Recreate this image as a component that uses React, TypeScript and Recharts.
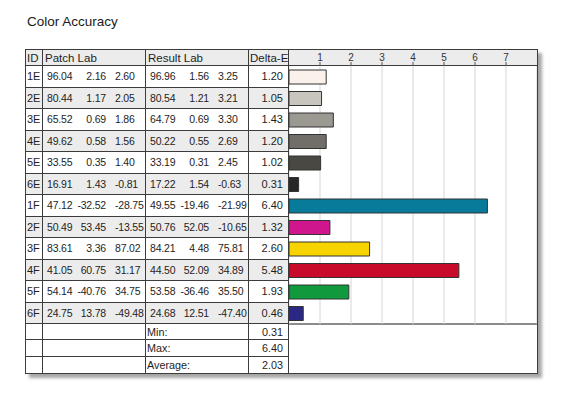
import React from 'react';
import { BarChart, Bar, XAxis, YAxis, CartesianGrid, Cell } from 'recharts';

// Patch readings: reference Lab, measured Lab and the resulting Delta-E
const patchIds = ['1E', '2E', '3E', '4E', '5E', '6E', '1F', '2F', '3F', '4F', '5F', '6F'];
const patchL = [96.04, 80.44, 65.52, 49.62, 33.55, 16.91, 47.12, 50.49, 83.61, 41.05, 54.14, 24.75];
const patchA = [2.16, 1.17, 0.69, 0.58, 0.35, 1.43, -32.52, 53.45, 3.36, 60.75, -40.76, 13.78];
const patchB = [2.6, 2.05, 1.86, 1.56, 1.4, -0.81, -28.75, -13.55, 87.02, 31.17, 34.75, -49.48];
const resultL = [96.96, 80.54, 64.79, 50.22, 33.19, 17.22, 49.55, 50.76, 84.21, 44.5, 53.58, 24.68];
const resultA = [1.56, 1.21, 0.69, 0.55, 0.31, 1.54, -19.46, 52.05, 4.48, 52.09, -36.46, 12.51];
const resultB = [3.25, 3.21, 3.3, 2.69, 2.45, -0.63, -21.99, -10.65, 75.81, 34.89, 35.5, -47.4];
const deltaE = [1.2, 1.05, 1.43, 1.2, 1.02, 0.31, 6.4, 1.32, 2.6, 5.48, 1.93, 0.46];

const summaryLabels = ['Min:', 'Max:', 'Average:'];
const summaryValues = [0.31, 6.4, 2.03];

const axisTicks = [1, 2, 3, 4, 5, 6, 7];

const patchColors = [
  '#fbf1ec', '#c8c4be', '#9c9892', '#716e69', '#4a4843', '#272727',
  '#087b9b', '#d0168d', '#f7d300', '#c80b2a', '#109a3d', '#2b2885',
];

const rows = patchIds.map((id, i) => ({ id, deltaE: deltaE[i] }));

const FONT = '"Liberation Sans", Arial, sans-serif';
const LINE = '#3c3c3c';
const HEADER_H = 16;
const ROW_H = 21.5;
const SUM_H = 16.33;
const COLS = [17, 103, 103, 40];
const BAR_W = 248;

const cell = (w: number, extra: React.CSSProperties = {}): React.CSSProperties => ({
  width: w,
  boxSizing: 'border-box',
  borderRight: `1px solid ${LINE}`,
  height: '100%',
  display: 'flex',
  alignItems: 'center',
  whiteSpace: 'nowrap',
  overflow: 'hidden',
  ...extra,
});

const fmt = (v: number) => v.toFixed(2);

// L left aligned, a right aligned, b left aligned (as in the source report)
const Triple: React.FC<{ vals: number[] }> = ({ vals }) => {
  const base: React.CSSProperties = { position: 'absolute', top: 0, lineHeight: `${ROW_H - 1}px`, letterSpacing: -0.2 };
  return (
    <div style={{ position: 'relative', width: '100%', height: '100%' }}>
      <span style={{ ...base, left: 4 }}>{fmt(vals[0])}</span>
      <span style={{ ...base, right: 103 - 64 }}>{fmt(vals[1])}</span>
      <span style={{ ...base, left: 72 }}>{fmt(vals[2])}</span>
    </div>
  );
};

const App: React.FC = () => {
  return (
    <div style={{ position: 'absolute', left: 0, top: 0, width: 579, height: 400, background: '#fff', fontFamily: FONT }}>
      <div style={{ position: 'absolute', left: 27, top: 14, fontSize: 13.5, color: '#1a1a1a' }}>Color Accuracy</div>

      <div
        style={{
          position: 'absolute',
          left: 25,
          top: 49,
          width: 511,
          height: 323,
          border: `1px solid ${LINE}`,
          boxShadow: '4px 4px 3px rgba(0,0,0,0.35)',
          background: '#fff',
          fontSize: 10.5,
          color: '#1e1e1e',
        }}
      >
        {/* table part */}
        <div style={{ position: 'absolute', left: 0, top: 0, width: 263 }}>
          <div style={{ display: 'flex', height: HEADER_H, background: '#ececec', borderBottom: `1px solid ${LINE}`, boxSizing: 'border-box', fontSize: 11.5 }}>
            <div style={cell(COLS[0], { paddingLeft: 1 })}>ID</div>
            <div style={cell(COLS[1], { paddingLeft: 2 })}>Patch Lab</div>
            <div style={cell(COLS[2], { paddingLeft: 2 })}>Result Lab</div>
            <div style={cell(COLS[3], { paddingLeft: 1 })}>Delta-E</div>
          </div>
          {patchIds.map((id, i) => (
            <div
              key={id}
              style={{
                display: 'flex',
                height: ROW_H,
                background: i % 2 === 0 ? '#ffffff' : '#ececec',
                borderBottom: `1px solid ${LINE}`,
                boxSizing: 'border-box',
              }}
            >
              <div style={cell(COLS[0], { paddingLeft: 1, fontSize: 11 })}>{id}</div>
              <div style={cell(COLS[1])}>
                <Triple vals={[patchL[i], patchA[i], patchB[i]]} />
              </div>
              <div style={cell(COLS[2])}>
                <Triple vals={[resultL[i], resultA[i], resultB[i]]} />
              </div>
              <div style={cell(COLS[3], { justifyContent: 'flex-end', paddingRight: 5, fontSize: 11 })}>{fmt(deltaE[i])}</div>
            </div>
          ))}
          {summaryLabels.map((label, i) => (
            <div
              key={label}
              style={{
                display: 'flex',
                height: SUM_H,
                borderBottom: i < summaryLabels.length - 1 ? `1px solid ${LINE}` : 'none',
                boxSizing: 'border-box',
                fontSize: 10.8,
              }}
            >
              <div style={cell(COLS[0])} />
              <div style={cell(COLS[1])} />
              <div style={cell(COLS[2], { paddingLeft: 1 })}>{label}</div>
              <div style={cell(COLS[3], { justifyContent: 'flex-end', paddingRight: 5 })}>{fmt(summaryValues[i])}</div>
            </div>
          ))}
        </div>

        {/* bar part */}
        <div style={{ position: 'absolute', left: 263, top: 0, width: BAR_W, height: 323 }}>
          <div style={{ position: 'absolute', left: 0, top: 0, width: BAR_W, height: HEADER_H, background: '#ececec', borderBottom: `1px solid ${LINE}`, boxSizing: 'border-box' }} />
          <div style={{ position: 'absolute', left: 0, top: 273, width: BAR_W, height: 2, background: '#8c8c8c' }} />
          <div style={{ position: 'absolute', left: 0, top: 0 }}>
            <BarChart
              width={BAR_W}
              height={274}
              data={rows}
              layout="vertical"
              margin={{ top: 0, right: 0, bottom: 0, left: 0 }}
            >
              <CartesianGrid horizontal={false} stroke="#d6d6d6" />
              <XAxis
                type="number"
                orientation="top"
                domain={[0, 8]}
                ticks={axisTicks}
                axisLine={false}
                tickSize={4}
                tickMargin={1}
                tickLine={{ stroke: '#555' }}
                tick={{ fontSize: 10, fill: '#333', fontFamily: FONT }}
                height={HEADER_H}
              />
              <YAxis type="category" dataKey="id" hide />
              <Bar dataKey="deltaE" barSize={14} stroke="#333" strokeWidth={1} isAnimationActive={false}>
                {rows.map((r, i) => (
                  <Cell key={r.id} fill={patchColors[i]} />
                ))}
              </Bar>
            </BarChart>
          </div>
        </div>
      </div>
    </div>
  );
};

export default App;
